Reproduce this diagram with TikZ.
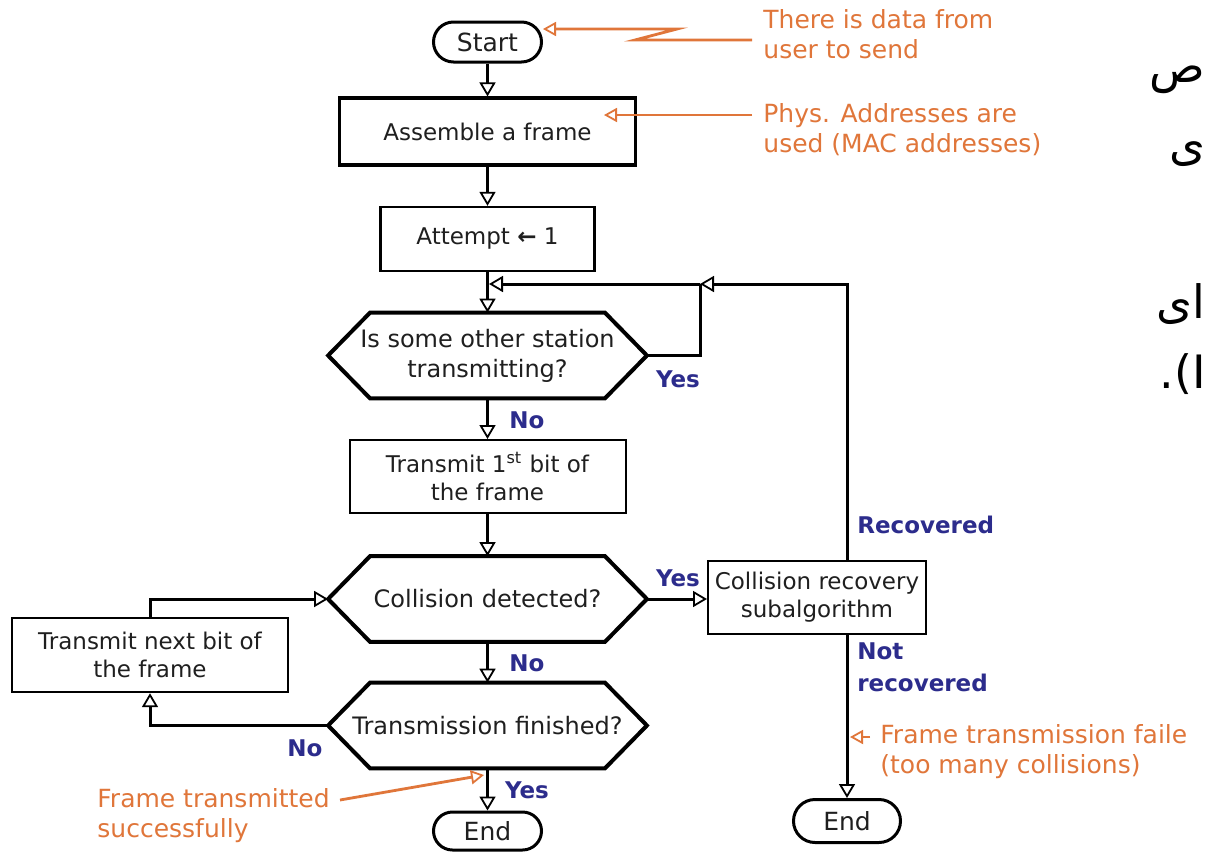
\documentclass[tikz,border=0pt]{standalone}
\usepackage{fontspec}
\setmainfont{DejaVu Sans}
\newfontfamily\arabicfont[Script=Arabic]{DejaVu Sans}
\TeXXeTstate=1
\usetikzlibrary{arrows.meta}
\definecolor{anno}{RGB}{224,118,58}
\definecolor{lbl}{RGB}{44,44,140}
\tikzset{
  box/.style={draw=black, line width=1.2pt, fill=white, font=\fontsize{11.5}{14}\selectfont, align=center, inner sep=0pt, text=black!88},
  term/.style={draw=black, line width=1.5pt, fill=white, font=\fontsize{12.5}{14}\selectfont, inner sep=0pt, text=black!88},
  hexnode/.style={inner sep=0pt, minimum width=159pt, minimum height=42.5pt, align=center, font=\fontsize{12}{15}\selectfont, text=black!88},
  hexline/.style={draw=black, line width=2pt, line join=miter},
  flow/.style={line width=1.5pt, -{Triangle[open, length=7pt, width=8pt, line width=0.9pt]}},
  conn/.style={line width=1.5pt},
  annoarrow/.style={draw=anno, line width=1.4pt, -{Triangle[open, length=6.5pt, width=7pt, line width=0.9pt]}},
  annotext/.style={text=anno, font=\fontsize{12.5}{15}\selectfont, align=left, inner sep=0pt},
  lab/.style={text=lbl, font=\bfseries\fontsize{11.5}{16}\selectfont, inner sep=0pt, align=left},
  fa/.style={font=\arabicfont\fontsize{23}{26}\selectfont, inner sep=0pt},
}
\begin{document}
\begin{tikzpicture}[x=0.5pt,y=-0.5pt]
\useasboundingbox (0,0) rectangle (1206,852);
\fill[white] (0,0) rectangle (1206,852);

% terminals and boxes
\node[term, minimum width=54pt, minimum height=20pt, rounded corners=10pt] (start) at (487.5,42) {Start};
\node[box, line width=1.6pt, minimum width=148pt, minimum height=33.5pt] (asm) at (487.5,131.5) {Assemble a frame};
\node[box, minimum width=107pt, minimum height=32pt] (att) at (487.5,239) {Attempt {\bfseries ←} 1};
\node[hexnode] (h1) at (487.5,355.5) {Is some other station\\transmitting?};
\node[box, line width=1pt, minimum width=138pt, minimum height=36.5pt] (t1) at (487.5,476.5) {Transmit 1\textsuperscript{st} bit of\\the frame};
\node[hexnode] (h2) at (487.5,599) {Collision detected?};
\node[box, line width=1pt, minimum width=109pt, minimum height=36.5pt] (rec) at (817,597) {Collision recovery\\subalgorithm};
\node[hexnode] (h3) at (487.5,725.5) {Transmission finished?};
\node[box, minimum width=138pt, minimum height=37pt] (tn) at (150,655) {Transmit next bit of\\the frame};
\node[term, minimum width=54pt, minimum height=19pt, rounded corners=9.5pt] (end1) at (487.5,831) {End};
\node[term, minimum width=53.5pt, minimum height=21.5pt, rounded corners=10.75pt] (end2) at (847,821) {End};

% hexagon outlines
\foreach \h in {h1,h2,h3}{
  \draw[hexline] (\h.west) -- ([xshift=21pt]\h.north west) -- ([xshift=-21pt]\h.north east) -- (\h.east) -- ([xshift=-21pt]\h.south east) -- ([xshift=21pt]\h.south west) -- cycle;
}

% connectors
\coordinate (j) at (700,284);
\coordinate (m) at (489,284);
\draw[flow] (start) -- (asm);
\draw[flow] (asm) -- (att);
\draw[flow] (att.south) -- (h1.north);
\draw[flow] ([xshift=15pt]rec.north) |- (j);
\draw[conn] (h1.east) -| (j);
\draw[flow] (j) -- (m);
\draw[flow] (h1.south) -- (t1.north);
\draw[flow] (t1.south) -- (h2.north);
\draw[flow] (h2.east) -- (h2.east -| rec.west);
\draw[flow] (h2.south) -- (h3.north);
\draw[flow] (h3.west) -| (tn.south);
\draw[flow] (tn.north) |- (h2.west);
\draw[flow] (h3.south) -- (end1.north);
\draw[flow] ([xshift=15pt]rec.south) -- (end2.north);

% labels
\node[lab] (y1) at (678,379) {Yes};
\node[lab] (n1) at (527,420) {No};
\node[lab] (y2) at (678,578) {Yes};
\node[lab] (n2) at (527,663) {No};
\node[lab] (n3) at (305,748) {No};
\node[lab] (y3) at (527,790) {Yes};
\node[lab, anchor=west] (rc) at (857,525) {Recovered};
\node[lab, anchor=north west] (nr) at (857,642) {Not\\recovered};

% annotations
\node[annotext, anchor=north west] (a1) at (763,9) {There is data from\\user to send};
\node[annotext, anchor=north west] (a2) at (763,103) {Phys. Addresses are\\used (MAC addresses)};
\node[annotext, anchor=north west] (a3) at (97,788) {Frame transmitted\\successfully};
\node[annotext, anchor=north west] (a4) at (880,724) {Frame transmission faile\\(too many collisions)};
\coordinate (a1s) at (752,40);
\coordinate (a2s) at (752,115);
\coordinate (a2t) at (604,115);
\coordinate (a3s) at (340,800);
\coordinate (a3t) at (484,775);
\coordinate (a4s) at (870,737);
\coordinate (a4t) at (850,737);
\draw[annoarrow] (a1s) -- (635,40) -- (677,29) -- ([yshift=6.5pt]start.east);
\draw[annoarrow] (a2s) -- (a2t);
\draw[annoarrow] (a3s) -- (a3t);
\draw[annoarrow] (a4s) -- (a4t);

% Persian text fragments at the right edge
\node[fa, anchor=base east] (p1) at (1206,82) {\beginR ص\endR};
\node[fa, anchor=base east] (p2) at (1206,160) {\beginR ی\endR};
\node[fa, anchor=base east] (p3) at (1206,318) {\beginR ای\endR};
\node[fa, anchor=base east] (p4) at (1206,388) {.(I};
\end{tikzpicture}
\end{document}
